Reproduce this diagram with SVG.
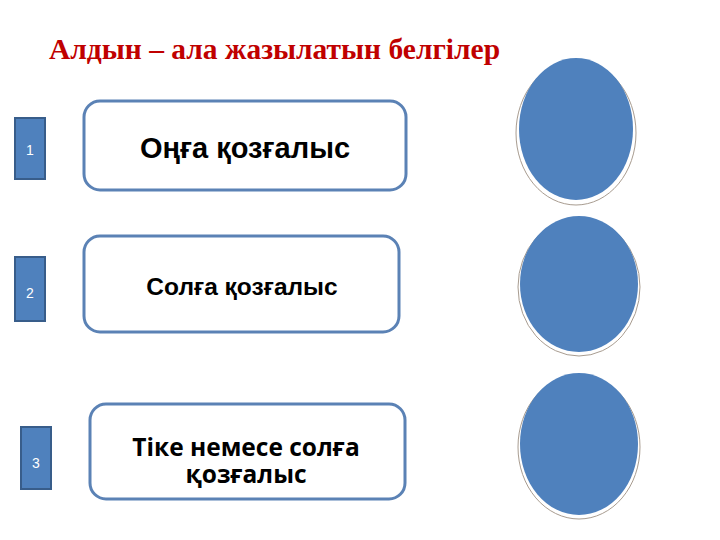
<svg xmlns="http://www.w3.org/2000/svg" width="720" height="540" viewBox="0 0 720 540">
<style>
.sq{fill:#4F81BD;stroke:#385D8A;stroke-width:2}
.num{font-family:"Liberation Sans",Arial,sans-serif;font-size:14px;fill:#fff;text-anchor:middle}
.box{fill:#fff;stroke:#5B82B5;stroke-width:3}
.lbl{font-family:"Liberation Sans",Arial,sans-serif;font-weight:bold;fill:#000;text-anchor:middle}
.lbl2{font-family:"Open Sans","Noto Sans",sans-serif;font-weight:bold;fill:#000;text-anchor:middle;font-size:24.5px}
.shadow{fill:#fff;stroke:#A89C90;stroke-width:1}
.oval{fill:#4F81BD}
</style>
<rect width="720" height="540" fill="#fff"/>
<text x="49" y="59" font-family="Liberation Serif,'Times New Roman',serif" font-weight="bold" font-size="29.5" fill="#C00000">Алдын – ала жазылатын белгілер</text>
<g id="n1">
<rect class="sq" x="15" y="118" width="30" height="61"/>
<text class="num" x="30" y="155">1</text>
<rect class="box" x="84" y="101" width="322" height="89" rx="16"/>
<text class="lbl" x="245" y="158" font-size="29">Оңға қозғалыс</text>
</g>
<g id="n2">
<rect class="sq" x="15" y="257" width="30" height="64"/>
<text class="num" x="30" y="298">2</text>
<rect class="box" x="84" y="236" width="315" height="96" rx="16"/>
<text class="lbl" x="242" y="295" font-size="24.5">Солға қозғалыс</text>
</g>
<g id="n3">
<rect class="sq" x="21" y="427" width="30" height="62"/>
<text class="num" x="36" y="468">3</text>
<rect class="box" x="90" y="404" width="315" height="95" rx="16"/>
<text class="lbl2" x="246" y="456">Тіке немесе солға</text>
<text class="lbl2" x="246" y="483">қозғалыс</text>
</g>
<g id="o1">
<ellipse class="shadow" cx="576" cy="133" rx="60" ry="72"/>
<ellipse class="oval" cx="576" cy="129" rx="57" ry="71"/>
</g>
<g id="o2">
<ellipse class="shadow" cx="579" cy="287" rx="61" ry="69"/>
<ellipse class="oval" cx="579" cy="284" rx="59" ry="68"/>
</g>
<g id="o3">
<ellipse class="shadow" cx="579" cy="447" rx="61" ry="72"/>
<ellipse class="oval" cx="579" cy="444" rx="59" ry="71"/>
</g>
<g id="connectors"></g>
</svg>
